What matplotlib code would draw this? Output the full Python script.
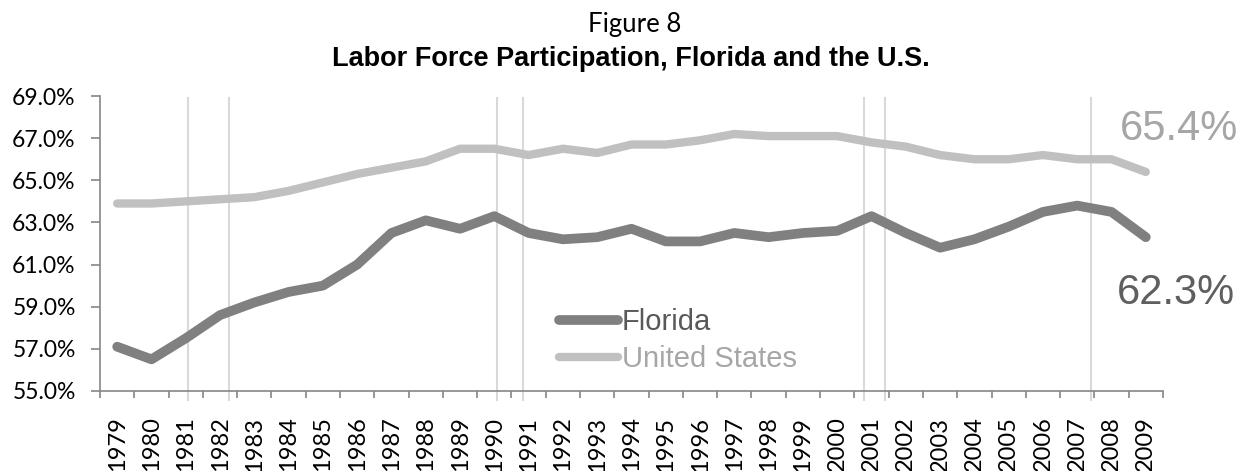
import matplotlib.pyplot as plt
import numpy as np

# --- Data ---
years = list(range(1979, 2010))
florida = [57.1, 56.5, 57.5, 58.6, 59.2, 59.7, 60.0, 61.0, 62.5, 63.1,
           62.7, 63.3, 62.5, 62.2, 62.3, 62.7, 62.1, 62.1, 62.5, 62.3,
           62.5, 62.6, 63.3, 62.5, 61.8, 62.2, 62.8, 63.5, 63.8, 63.5, 62.3]
us = [63.9, 63.9, 64.0, 64.1, 64.2, 64.5, 64.9, 65.3, 65.6, 65.9,
      66.5, 66.5, 66.2, 66.5, 66.3, 66.7, 66.7, 66.9, 67.2, 67.1,
      67.1, 67.1, 66.8, 66.6, 66.2, 66.0, 66.0, 66.2, 66.0, 66.0, 65.4]
# recession start/end markers (decimal years)
recession_marks = [1981.57, 1982.76, 1990.58, 1991.34, 2001.28, 2001.89, 2007.90]
y_ticks = [55, 57, 59, 61, 63, 65, 67, 69]

CAL = 'Lato'
ARIAL = 'Liberation Sans'
AXIS_GREY = '#868686'

fig = plt.figure(figsize=(12.49, 4.71), dpi=100)
ax = fig.add_axes([0.0801, 0.170, 0.851, 0.626])

x = np.arange(len(years))
ax.plot(x, florida, color='#808080', lw=7, solid_capstyle='round',
        solid_joinstyle='round', label='Florida', zorder=3)
ax.plot(x, us, color='#C0C0C0', lw=6, solid_capstyle='round',
        solid_joinstyle='round', label='United States', zorder=3)

for r in recession_marks:
    ax.axvline(r - years[0] - 0.5, ymin=-0.03, ymax=0.993, color='#D9D9D9',
               lw=1.5, clip_on=False, zorder=1)

ax.set_xlim(-0.5, len(years) - 0.5)
ax.set_ylim(55, 69)
ax.set_yticks(y_ticks)
ax.set_yticklabels([f'{v:.1f}%' for v in y_ticks], fontfamily=CAL, fontsize=16.5)
ax.set_xticks(x)
ax.set_xticklabels([str(y) for y in years], rotation=90, fontfamily=CAL, fontsize=17)
ax.set_xticks(np.arange(-0.5, len(years), 1), minor=True)
ax.tick_params(axis='x', which='major', length=0, pad=18.5)
ax.tick_params(axis='x', which='minor', length=5, color=AXIS_GREY, width=1.2)
ax.tick_params(axis='y', length=6.5, color=AXIS_GREY, width=1.2, pad=11)

for s in ['top', 'right']:
    ax.spines[s].set_visible(False)
for s in ['left', 'bottom']:
    ax.spines[s].set_color(AXIS_GREY)
    ax.spines[s].set_linewidth(1.2)

# end-point labels
ax.annotate(f'{us[-1]:.1f}%', xy=(x[-1], us[-1]), xytext=(-18.7, 31),
            textcoords='offset points', ha='left', va='center',
            fontfamily=ARIAL, fontsize=30, color='#A6A6A6', annotation_clip=False)
ax.annotate(f'{florida[-1]:.1f}%', xy=(x[-1], florida[-1]), xytext=(-21, -40.5),
            textcoords='offset points', ha='left', va='center',
            fontfamily=ARIAL, fontsize=30, color='#5F5F5F', annotation_clip=False)

leg = ax.legend(loc='upper left', bbox_to_anchor=(0.432, 0.280), frameon=False,
                prop={'family': ARIAL, 'size': 21}, handlelength=2.0,
                handletextpad=0.15, labelspacing=0.3, borderpad=0, borderaxespad=0)
for txt, c in zip(leg.get_texts(), ['#595959', '#A6A6A6']):
    txt.set_color(c)

fig.text(0.508, 0.932, 'Figure 8', ha='center', va='baseline', fontfamily=CAL, fontsize=18.5)
fig.text(0.505, 0.860, 'Labor Force Participation, Florida and the U.S.', ha='center',
         va='baseline', fontfamily=ARIAL, fontweight='bold', fontsize=19.5)

fig.savefig('out.png', dpi=100)
